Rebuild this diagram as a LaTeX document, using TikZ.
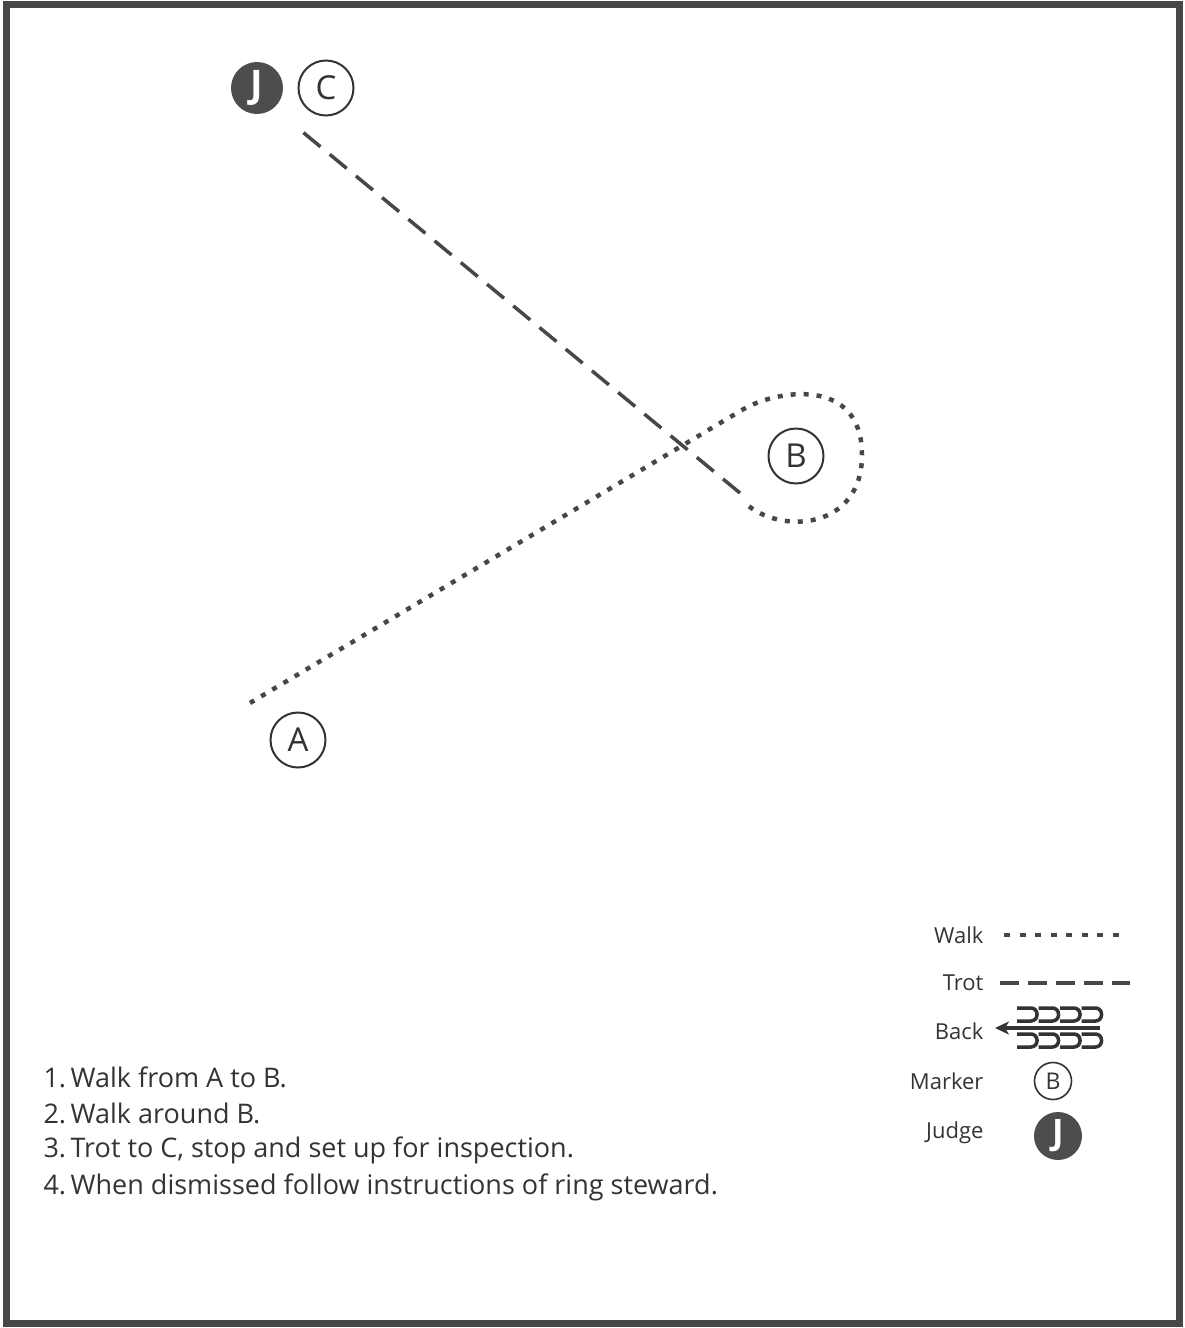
\documentclass[tikz,border=0pt]{standalone}
\usepackage{fontspec}
\setmainfont{Open Sans}
\usetikzlibrary{arrows.meta}
\definecolor{ink}{HTML}{333333}
\definecolor{frame}{HTML}{474747}
\definecolor{judgefill}{HTML}{4D4D4D}

\begin{document}
\begin{tikzpicture}[x=1pt, y=-1pt,
    marker/.style={circle, draw=ink, line width=2pt, inner sep=0pt, minimum size=55pt, text=ink, font=\fontsize{33}{33}\selectfont},
    smallmarker/.style={marker, minimum size=37pt, line width=1.6pt, font=\fontsize{23}{23}\selectfont},
    judge/.style={circle, fill=judgefill, inner sep=0pt, minimum size=52pt, text=white, font=\fontsize{38}{38}\selectfont\bfseries},
    walkline/.style={draw=ink!90, line width=4.5pt, dash pattern=on 5pt off 8pt},
    trotline/.style={draw=ink!90, line width=3.5pt, dash pattern=on 22pt off 12pt},
    legendtext/.style={anchor=east, text=ink, font=\fontsize{22}{22}\selectfont},
    steptext/.style={anchor=west, text=ink, font=\fontsize{27}{27}\selectfont}]
    \useasboundingbox (0,0) rectangle (1184,1328);

    % Frame
    \draw[frame, line width=7pt] (6,4) rectangle (1179,1323);

    % Draw markers
    \node[judge] (J) at (257,88) {J};
    \node[marker] (C) at (326,88) {C};
    \node[marker] (B) at (796,456) {B};
    \node[marker] (A) at (298,740) {A};

    % Path ends
    \coordinate (walkstart) at (250,703);
    \coordinate (loopin) at (742,410);
    \coordinate (loopright) at (862,455);
    \coordinate (loopend) at (745,503);
    \coordinate (trotstart) at (740,493);
    \coordinate (trotend) at (299,129);

    % Draw walk around B
    \draw[walkline] (walkstart) -- (loopin)
        .. controls (775,390) and (862,375) .. (loopright)
        .. controls (862,530) and (780,535) .. (loopend);

    % Draw trot to C
    \draw[trotline] (trotstart) -- (trotend);

    % Legend
    \node[legendtext] (walklabel) at (987,935) {Walk};
    \node[legendtext] (trotlabel) at (987,983) {Trot};
    \node[legendtext] (backlabel) at (987,1031) {Back};
    \node[legendtext] (markerlabel) at (987,1081) {Marker};
    \node[legendtext] (judgelabel) at (987,1133) {Judge};

    \coordinate (walkkeyA) at (1004,935);
    \coordinate (walkkeyB) at (1122,935);
    \draw[walkline, dash pattern=on 6pt off 9.5pt] (walkkeyA) -- (walkkeyB);
    \coordinate (trotkeyA) at (1000,983);
    \coordinate (trotkeyB) at (1130,983);
    \draw[trotline, dash pattern=on 19pt off 9pt] (trotkeyA) -- (trotkeyB);

    \coordinate (backkeyA) at (1100,1028);
    \coordinate (backkeyB) at (995,1028);
    \draw[ink, line width=3.5pt, -{Stealth[length=14pt, width=13pt, inset=4pt]}] (backkeyA) -- (backkeyB);
    \foreach \x in {1017,1038.5,1060,1081.5} {
        \draw[ink, line width=3.5pt, rounded corners=6pt] (\x,1008) -- (\x+20,1008) -- (\x+20,1021) -- (\x,1021);
        \draw[ink, line width=3.5pt, rounded corners=6pt] (\x,1034) -- (\x+20,1034) -- (\x+20,1047) -- (\x,1047);
    }

    \node[smallmarker] (markerkey) at (1053,1081) {B};
    \node[judge, minimum size=48pt, font=\fontsize{35}{35}\selectfont\bfseries] (judgekey) at (1058,1136) {J};

    % Steps
    \node[steptext] (step1) at (40,1077) {1.\,Walk from A to B.};
    \node[steptext] (step2) at (40,1113) {2.\,Walk around B.};
    \node[steptext] (step3) at (40,1150) {3.\,Trot to C, stop and set up for inspection.};
    \node[steptext] (step4) at (40,1187) {4.\,When dismissed follow instructions of ring steward.};
\end{tikzpicture}
\end{document}
